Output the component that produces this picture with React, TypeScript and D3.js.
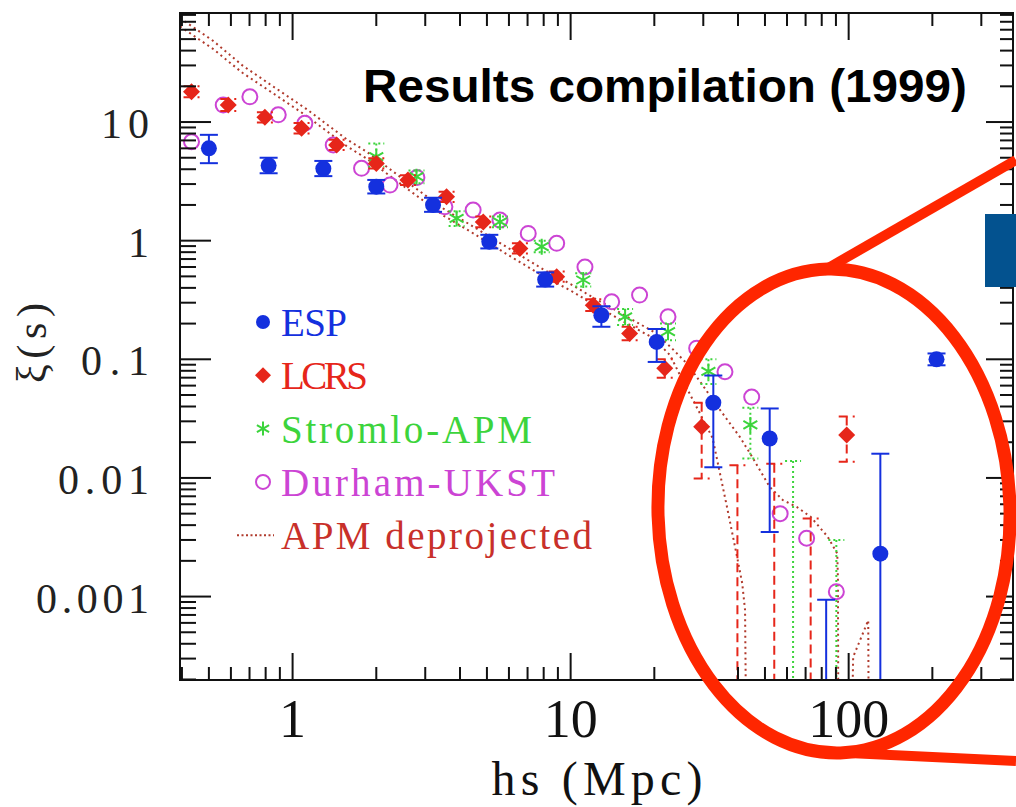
import React from 'react';
import * as d3 from 'd3';

// ---------------- data ----------------
const xTickLabels = ['1', '10', '100'];
const yTickLabels = ['10', '1', '0.1', '0.01', '0.001'];
const legendLabels = ['ESP', 'LCRS', 'Stromlo-APM', 'Durham-UKST', 'APM deprojected'];

// ESP (null y => value below the plotted range; null lo => bar runs off the bottom)
const espX = [0.5, 0.82, 1.29, 2.0, 3.2, 5.1, 8.1, 12.9, 20.4, 32.6, 52, 83, 130, 207];
const espY = [6.0, 4.3, 4.05, 2.85, 2.0, 0.98, 0.47, 0.235, 0.14, 0.043, 0.0215, null, 0.0023, 0.1];
const espLo = [4.5, 3.7, 3.5, 2.5, 1.75, 0.86, 0.41, 0.188, 0.095, 0.0123, 0.0035, null, null, 0.089];
const espHi = [7.8, 5.0, 4.7, 3.25, 2.3, 1.12, 0.54, 0.28, 0.18, 0.073, 0.0385, 0.00094, 0.016, 0.112];

// LCRS
const lcrsX = [0.433, 0.587, 0.795, 1.077, 1.44, 2.0, 2.6, 3.58, 4.85, 6.57, 8.91, 12.06, 16.3, 21.8, 29.6, 39.8, 54, 73, 98.4];
const lcrsY = [18.0, 13.9, 10.95, 8.85, 6.4, 4.48, 3.24, 2.34, 1.44, 0.86, 0.496, 0.286, 0.165, 0.084, 0.027, null, null, null, 0.023];
const lcrsLo = [16.2, 12.4, 9.9, 8.0, 5.8, 4.05, 2.95, 2.12, 1.3, 0.78, 0.45, 0.255, 0.145, 0.07, 0.0099, null, null, null, 0.0137];
const lcrsHi = [20.0, 15.6, 12.1, 9.8, 7.1, 4.95, 3.56, 2.58, 1.6, 0.95, 0.55, 0.32, 0.188, 0.1, 0.043, 0.0128, 0.0132, 0.00455, 0.033];

// Stromlo-APM
const strX = [2.0, 2.79, 3.89, 5.57, 7.87, 11.1, 15.7, 22.4, 31.3, 44.3, 63.1, 90.3];
const strY = [5.1, 3.46, 1.54, 1.44, 0.89, 0.466, 0.228, 0.171, 0.079, 0.028, null, null];
const strLo = [4.2, 3.05, 1.33, 1.3, 0.8, 0.41, 0.195, 0.145, 0.062, 0.0146, null, null];
const strHi = [6.6, 3.9, 1.77, 1.6, 1.0, 0.53, 0.265, 0.2, 0.1, 0.039, 0.0139, 0.003];

// Durham-UKST
const durX = [0.433, 0.563, 0.702, 0.888, 1.107, 1.4, 1.77, 2.24, 2.8, 3.53, 4.46, 5.57, 7.04, 8.91, 11.26, 14.05, 17.7, 22.4, 28.4, 35.9, 44.8, 56.7, 70.6, 90.3];
const durY = [6.82, 13.9, 16.3, 11.5, 9.75, 6.4, 4.07, 2.94, 3.4, 1.93, 1.81, 1.49, 1.15, 0.95, 0.6, 0.305, 0.348, 0.228, 0.124, 0.0785, 0.048, 0.005, 0.0031, 0.0011];

// APM deprojected (two dotted curves)
const apmAX = [0.394, 0.52, 0.66, 0.85, 1.12, 1.56, 1.85, 2.5, 3.5, 4.5, 6, 8, 10, 12.1, 15.4, 19.9, 22.8, 26.2, 29.2, 33.5, 40.7, 45, 52, 58, 65, 73, 84, 91, 91.5, 92, 101, 103.8, 117.6, 118.5];
const apmAY = [75, 48, 30, 20, 12.9, 7.2, 5.6, 3.3, 1.85, 1.3, 0.86, 0.57, 0.43, 0.33, 0.24, 0.17, 0.128, 0.092, 0.065, 0.041, 0.022, 0.015, 0.0084, 0.0065, 0.0057, 0.0047, 0.0032, 0.0023, 0.0014, 0.00001, 0.00001, 0.00031, 0.00063, 0.00001];
const apmBX = [0.394, 0.52, 0.66, 0.85, 1.12, 1.56, 1.85, 2.5, 3.5, 4.5, 6, 8, 10, 12.1, 15.4, 19.9, 22.8, 25, 27.6, 32.4, 36.5, 39.7, 41.4, 42.4, 43.1];
const apmBY = [64, 41, 26, 17.5, 11.3, 6.3, 4.9, 2.9, 1.62, 1.14, 0.75, 0.5, 0.38, 0.29, 0.21, 0.15, 0.108, 0.07, 0.045, 0.0217, 0.0057, 0.00215, 0.0013, 0.00077, 0.00001];

// ---------------- styles ----------------
const C_ESP = '#1430de';
const C_LCRS = '#e6261a';
const C_STR = '#3cd43c';
const C_DUR = '#cc44d4';
const C_APM = '#b03a2c';
const C_APM_TXT = '#c8302a';
const C_ANN = '#ff2600';

const SERIF = "'Liberation Serif', 'Times New Roman', serif";

const W = 1016;
const H = 807;
const L = 180;
const R = 1013;
const T = 13;
const B = 680;

// widths the labels occupy in the reference (typewriter-like spacing)
const yLabelWidths = [48, 24, 68, 91, 113];
const legendWidths = [66, 87, 251, 274, 311];

function Diamond({ cx, cy, r, fill }: any) {
  return <path d={`M${cx},${cy - r}L${cx + r},${cy}L${cx},${cy + r}L${cx - r},${cy}Z`} fill={fill} />;
}

function Star({ cx, cy, r, stroke }: any) {
  const a = r * 0.87;
  const b = r * 0.5;
  return (
    <path
      d={`M${cx},${cy - r}L${cx},${cy + r}M${cx - a},${cy - b}L${cx + a},${cy + b}M${cx - a},${cy + b}L${cx + a},${cy - b}`}
      stroke={stroke}
      strokeWidth={2}
      fill="none"
    />
  );
}

export default function App() {
  const x = d3.scaleLog().domain([0.3936, 390]).range([L, R]);
  const y = d3.scaleLog().domain([1.98e-4, 83]).range([B, T]);

  const xMinor: number[] = [];
  for (let e = -1; e <= 2; e++) for (let m = 1; m <= 9; m++) {
    const v = m * Math.pow(10, e);
    if (v >= x.domain()[0] && v <= x.domain()[1]) xMinor.push(v);
  }
  const yMinor: number[] = [];
  for (let e = -4; e <= 1; e++) for (let m = 1; m <= 9; m++) {
    const v = m * Math.pow(10, e);
    if (v >= y.domain()[0] && v <= y.domain()[1]) yMinor.push(v);
  }
  const isMajor = (v: number) => Math.abs(Math.log10(v) - Math.round(Math.log10(v))) < 1e-9;

  const xMajorVals = xTickLabels.map(Number);
  const yMajorVals = yTickLabels.map(Number);

  const errBar = (
    key: string,
    xv: number,
    lo: number | null,
    hi: number,
    color: string,
    dash: string | undefined,
    cap: number
  ) => {
    const xp = x(xv);
    const y1 = y(hi);
    const y0 = lo == null ? B + 30 : y(lo);
    return (
      <g key={key} stroke={color} strokeWidth={2} strokeDasharray={dash} fill="none">
        <line x1={xp} x2={xp} y1={y1} y2={y0} />
        <line x1={xp - cap} x2={xp + cap} y1={y1} y2={y1} />
        {lo != null && <line x1={xp - cap} x2={xp + cap} y1={y0} y2={y0} />}
      </g>
    );
  };

  const line = d3
    .line<[number, number]>()
    .x((d) => x(d[0]))
    .y((d) => y(d[1]));
  const apmA = line(apmAX.map((v, i) => [v, apmAY[i]]));
  const apmB = line(apmBX.map((v, i) => [v, apmBY[i]]));

  const legendX = 263;
  const legendY0 = 322;
  const legendDy = 53.3;
  const legendColors = [C_ESP, C_LCRS, C_STR, C_DUR, C_APM_TXT];

  return (
    <svg
      width={W}
      height={H}
      style={{ position: 'absolute', left: 0, top: 0, background: '#fff' }}
      xmlns="http://www.w3.org/2000/svg"
    >
      <rect x={0} y={0} width={W} height={H} fill="#fff" />
      <defs>
        <clipPath id="plotClip">
          <rect x={L} y={T} width={R - L} height={B - T} />
        </clipPath>
      </defs>

      {/* data */}
      <g clipPath="url(#plotClip)">
        <path d={apmA || ''} fill="none" stroke={C_APM} strokeWidth={2} strokeDasharray="2 3.5" />
        <path d={apmB || ''} fill="none" stroke={C_APM} strokeWidth={2} strokeDasharray="2 3.5" />

        {durX.map((v, i) => (
          <circle key={'d' + i} cx={x(v)} cy={y(durY[i])} r={7.5} fill="none" stroke={C_DUR} strokeWidth={2} />
        ))}

        {strX.map((v, i) => errBar('se' + i, v, strLo[i], strHi[i], C_STR, '2 3', 8))}
        {strX.map((v, i) =>
          strY[i] == null ? null : <Star key={'s' + i} cx={x(v)} cy={y(strY[i] as number)} r={8} stroke={C_STR} />
        )}

        {lcrsX.map((v, i) => errBar('le' + i, v, lcrsLo[i], lcrsHi[i], C_LCRS, '9 5', 8))}
        {lcrsX.map((v, i) =>
          lcrsY[i] == null ? null : <Diamond key={'l' + i} cx={x(v)} cy={y(lcrsY[i] as number)} r={8.5} fill={C_LCRS} />
        )}

        {espX.map((v, i) => errBar('ee' + i, v, espLo[i], espHi[i], C_ESP, undefined, 9))}
        {espX.map((v, i) =>
          espY[i] == null ? null : <circle key={'e' + i} cx={x(v)} cy={y(espY[i] as number)} r={8} fill={C_ESP} />
        )}
      </g>

      {/* frame & ticks */}
      <g stroke="#111" strokeWidth={2} fill="none">
        <rect x={L} y={T} width={R - L} height={B - T} />
        {xMinor.map((v, i) => {
          const len = isMajor(v) ? 27 : 13;
          return (
            <g key={'xt' + i}>
              <line x1={x(v)} x2={x(v)} y1={B} y2={B - len} />
              <line x1={x(v)} x2={x(v)} y1={T} y2={T + len} />
            </g>
          );
        })}
        {yMinor.map((v, i) => {
          const maj = isMajor(v);
          return (
            <g key={'yt' + i}>
              <line x1={L} x2={L + (maj ? 31 : 16)} y1={y(v)} y2={y(v)} />
              <line x1={R} x2={R - (maj ? 27 : 13)} y1={y(v)} y2={y(v)} />
            </g>
          );
        })}
      </g>

      {/* tick labels */}
      {xMajorVals.map((v, i) => (
        <text key={'xl' + i} x={x(v)} y={737} textAnchor="middle" fontFamily={SERIF} fontSize={54} fill="#111">
          {xTickLabels[i]}
        </text>
      ))}
      {yMajorVals.map((v, i) => (
        <text
          key={'yl' + i}
          x={149}
          y={y(v) + 16}
          textAnchor="end"
          fontFamily={SERIF}
          fontSize={42}
          textLength={yLabelWidths[i]}
          lengthAdjust="spacing"
          fill="#222"
        >
          {yTickLabels[i]}
        </text>
      ))}

      {/* axis titles */}
      <text
        x={597}
        y={795}
        textAnchor="middle"
        fontFamily={SERIF}
        fontSize={48}
        textLength={211}
        lengthAdjust="spacing"
        fill="#111"
      >
        hs (Mpc)
      </text>
      <text
        transform={`translate(46, 343) rotate(-90)`}
        textAnchor="middle"
        fontFamily={SERIF}
        fontSize={42}
        textLength={80}
        lengthAdjust="spacing"
        fill="#222"
      >
        ξ(s)
      </text>

      {/* title */}
      <text
        x={363}
        y={102}
        fontFamily="'Liberation Sans', Arial, sans-serif"
        fontWeight="bold"
        fontSize={47}
        textLength={604}
        lengthAdjust="spacingAndGlyphs"
        fill="#000"
      >
        Results compilation (1999)
      </text>

      {/* legend */}
      <g fontFamily={SERIF} fontSize={39}>
        <circle cx={legendX} cy={legendY0} r={7} fill={C_ESP} />
        <Diamond cx={legendX} cy={legendY0 + legendDy} r={8} fill={C_LCRS} />
        <Star cx={legendX} cy={legendY0 + 2 * legendDy} r={7} stroke={C_STR} />
        <circle cx={legendX} cy={legendY0 + 3 * legendDy} r={7} fill="none" stroke={C_DUR} strokeWidth={2} />
        <line
          x1={237}
          x2={274}
          y1={legendY0 + 4 * legendDy}
          y2={legendY0 + 4 * legendDy}
          stroke={C_APM}
          strokeWidth={2}
          strokeDasharray="2 2.5"
        />
        {legendLabels.map((lab, i) => (
          <text
            key={'lg' + i}
            x={281}
            y={legendY0 + i * legendDy + 14}
            fill={legendColors[i]}
            textLength={legendWidths[i]}
            lengthAdjust="spacing"
          >
            {lab}
          </text>
        ))}
      </g>

      {/* overlay annotation (callout) */}
      <rect x={985} y={214} width={31} height={73} fill="#03528f" />
      <line x1={823} y1={271} x2={1016} y2={160} stroke={C_ANN} strokeWidth={10} />
      <line x1={828} y1={752} x2={1016} y2={761} stroke={C_ANN} strokeWidth={10} />
      <ellipse
        cx={834}
        cy={511}
        rx={176}
        ry={242}
        transform="rotate(-1.5 834 511)"
        fill="none"
        stroke={C_ANN}
        strokeWidth={13}
      />
    </svg>
  );
}
